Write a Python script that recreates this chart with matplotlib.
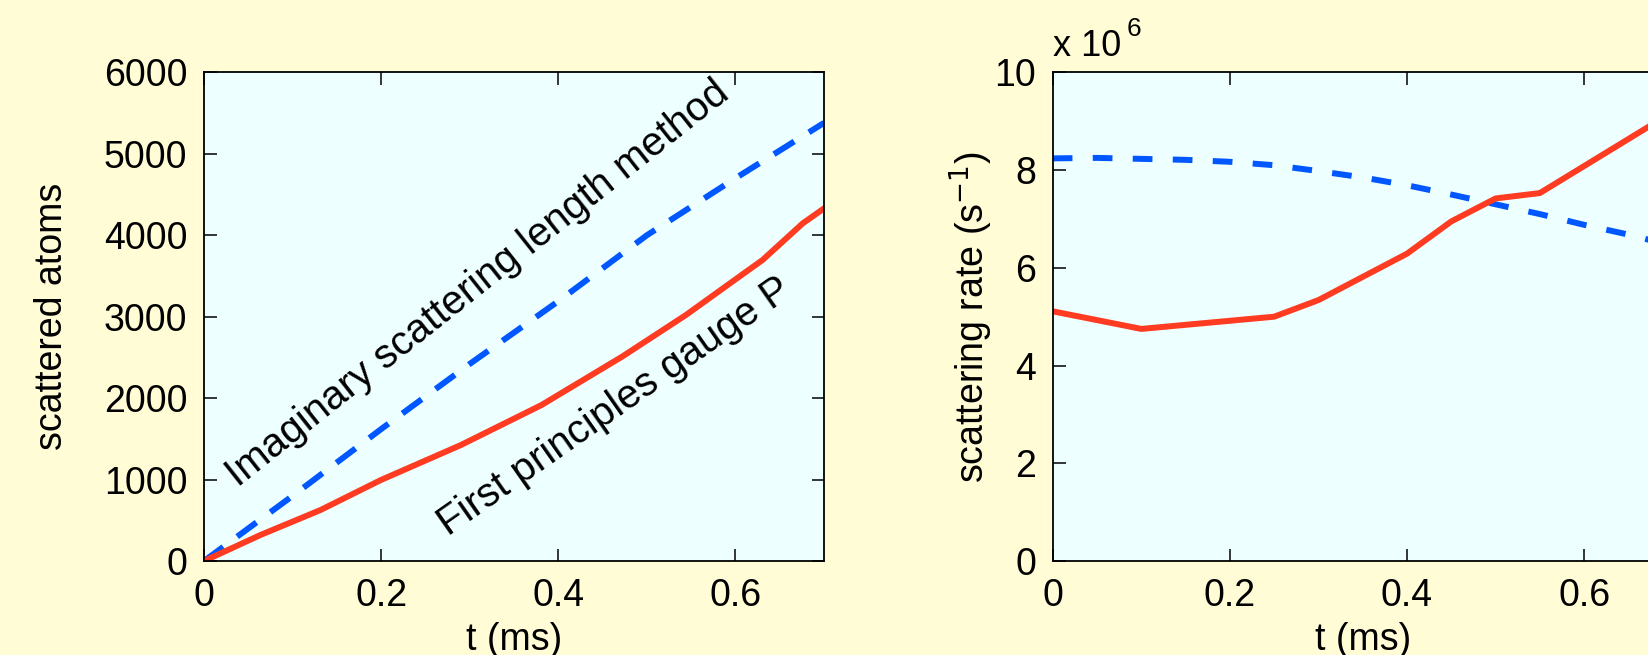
import matplotlib
matplotlib.use("Agg")
import matplotlib.pyplot as plt

plt.rcParams['font.family'] = ['Liberation Sans', 'DejaVu Sans']

# ---- data ----
# left panel: scattered atoms vs t (ms)
t_imag_left = [0, 0.1, 0.2, 0.3, 0.4, 0.5, 0.6, 0.7]
atoms_imag = [0, 800, 1620, 2420, 3190, 4000, 4700, 5380]
t_fp_left = [0, 0.0636, 0.1315, 0.1996, 0.29, 0.381, 0.472, 0.544, 0.599, 0.6306, 0.676, 0.7]
atoms_fp = [0, 319, 626, 994, 1424, 1915, 2509, 3020, 3450, 3696, 4146, 4330]

# right panel: scattering rate (x 10^6 s^-1)
t_imag_right = [0, 0.05, 0.1, 0.15, 0.2, 0.25, 0.3, 0.35, 0.4, 0.45, 0.5, 0.55, 0.6, 0.65, 0.7]
rate_imag = [8.24, 8.25, 8.23, 8.21, 8.17, 8.10, 7.98, 7.85, 7.69, 7.50, 7.30, 7.10, 6.88, 6.68, 6.45]
t_fp_right = [0, 0.1, 0.25, 0.3, 0.4, 0.45, 0.5, 0.55, 0.7]
rate_fp = [5.11, 4.75, 5.00, 5.34, 6.29, 6.95, 7.42, 7.53, 9.19]

xticks = [0, 0.2, 0.4, 0.6]
xticklabels = ['0', '0.2', '0.4', '0.6']
yticks_left = [0, 1000, 2000, 3000, 4000, 5000, 6000]
yticks_right = [0, 2, 4, 6, 8, 10]

label_imag = 'Imaginary scattering length method'
label_fp = 'First principles gauge P'

# ---- style ----
FIG_BG = '#FFFCD6'
AX_BG = '#EEFFFF'
BLUE = '#0057FF'
RED = '#FF3B22'
FS = 27

fig = plt.figure(figsize=(16.48, 6.55), dpi=100, facecolor=FIG_BG)
ax1 = fig.add_axes([0.1238, 0.1435, 0.3762, 0.746])
ax2 = fig.add_axes([0.6388, 0.1435, 0.3762, 0.746])

for ax in (ax1, ax2):
    ax.set_facecolor(AX_BG)
    ax.set_xlim(0, 0.7)
    ax.set_xticks(xticks)
    ax.set_xticklabels(xticklabels)
    ax.tick_params(direction='in', length=9, width=1.1, top=True, right=True,
                   labelsize=FS, pad=12)
    for s in ax.spines.values():
        s.set_linewidth(1.3)
    ax.set_xlabel('t (ms)', fontsize=FS, labelpad=6)

# left panel
ax1.plot(t_imag_left, atoms_imag, color=BLUE, lw=4.3, ls=(0, (4.0, 2.9)),
         dash_capstyle='butt')
ax1.plot(t_fp_left, atoms_fp, color=RED, lw=4.3, solid_capstyle='round')
ax1.set_ylim(0, 6000)
ax1.set_yticks(yticks_left)
ax1.set_ylabel('scattered atoms', fontsize=FS)
ax1.yaxis.set_label_coords(-0.216, 0.5)
ax1.text(0.038, 896, label_imag, rotation=38.4, fontsize=29,
         ha='left', va='baseline', rotation_mode='anchor')
ax1.text(0.276, 300, label_fp, rotation=35, fontsize=29,
         ha='left', va='baseline', rotation_mode='anchor')

# right panel
ax2.plot(t_imag_right, rate_imag, color=BLUE, lw=4.3, ls=(0, (3.3, 3.4)),
         dash_capstyle='butt')
ax2.plot(t_fp_right, rate_fp, color=RED, lw=4.3)
ax2.set_ylim(0, 10)
ax2.set_yticks(yticks_right)
ax2.set_ylabel(r'scattering rate (s$^{-1}$)', fontsize=FS)
ax2.yaxis.set_label_coords(-0.093, 0.5)
ax2.text(0.0, 1.033, 'x 10', transform=ax2.transAxes, fontsize=26,
         ha='left', va='baseline')
ax2.text(0.119, 1.075, '6', transform=ax2.transAxes, fontsize=19,
         ha='left', va='baseline')

fig.savefig('out.png', dpi=100, facecolor=FIG_BG)
